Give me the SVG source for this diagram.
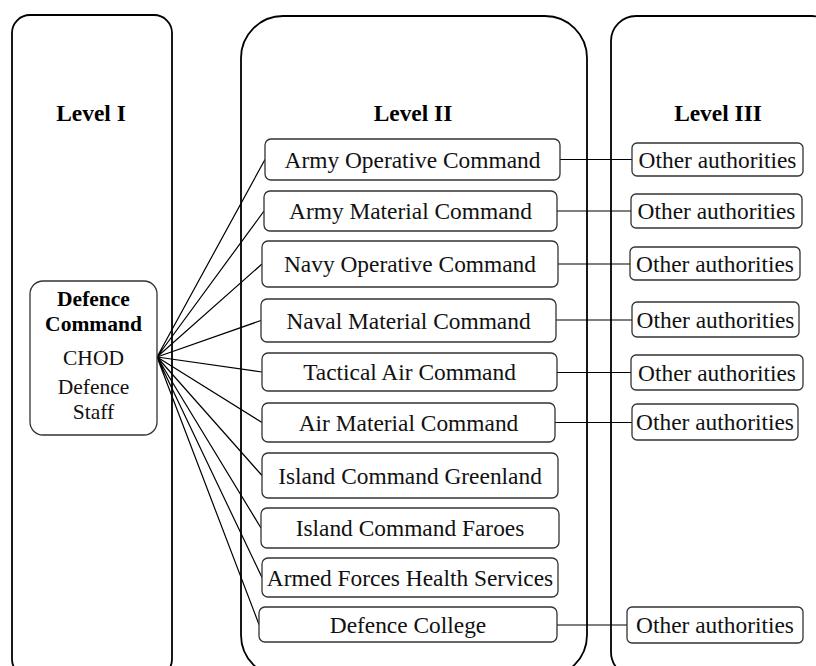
<svg xmlns="http://www.w3.org/2000/svg" width="816" height="666" viewBox="0 0 816 666">
<style>
.panel{fill:#fff;stroke:#000;stroke-width:1.8}
.box{fill:#fff;stroke:#333;stroke-width:1.3}
.t{font-family:"Liberation Serif","Times New Roman",serif;font-size:23.4px;fill:#111;text-anchor:middle}
.s{font-size:21.5px}
.b{font-weight:bold;fill:#000}
.c{stroke:#000;stroke-width:1.2;fill:none}
</style>
<rect width="816" height="666" fill="#fff"/>
<g id="panels">
<g id="level1"><rect class="panel" x="12" y="15" width="160" height="662" rx="18"/><text class="t b" x="91" y="121">Level I</text></g>
<g id="level2"><rect class="panel" x="241" y="16" width="346" height="661" rx="42"/><text class="t b" x="413" y="121">Level II</text></g>
<g id="level3"><rect class="panel" x="611" y="16" width="226" height="661" rx="25"/><text class="t b" x="718" y="121">Level III</text></g>
</g>
<g id="connectors">
<path class="c" d="M157,357L265,159.5M157,357L264,211M157,357L262,264M157,357L261,320.5M157,357L262,372M157,357L262,422.5M157,357L262,475.5M157,357L261,528M157,357L262,577.5M157,357L259,624.5"/>
<path class="c" d="M560,159.5H632M557,211H631M558,264H630M556,320H632M557,372.5H631M555,422.5H632M557,625H627"/>
</g>
<g id="defence-command">
<rect class="box" x="30" y="281" width="127" height="154" rx="13"/>
<text class="t s b" x="93.5" y="306">Defence</text>
<text class="t s b" x="93.5" y="330.5">Command</text>
<text class="t s" x="93.5" y="365">CHOD</text>
<text class="t s" x="93.5" y="394">Defence</text>
<text class="t s" x="93.5" y="418.5">Staff</text>
</g>
<g id="army-operative"><rect class="box" x="265" y="139" width="295" height="41" rx="6"/><text class="t" x="412.5" y="167.5">Army Operative Command</text></g>
<g id="army-material"><rect class="box" x="264" y="191" width="293" height="40" rx="6"/><text class="t" x="410.5" y="219">Army Material Command</text></g>
<g id="navy-operative"><rect class="box" x="262" y="241" width="296" height="46" rx="6"/><text class="t" x="410" y="272">Navy Operative Command</text></g>
<g id="naval-material"><rect class="box" x="261" y="299" width="295" height="43" rx="6"/><text class="t" x="408.5" y="328.5">Naval Material Command</text></g>
<g id="tactical-air"><rect class="box" x="262" y="353" width="295" height="38" rx="6"/><text class="t" x="409.5" y="380">Tactical Air Command</text></g>
<g id="air-material"><rect class="box" x="262" y="403" width="293" height="39" rx="6"/><text class="t" x="408.5" y="430.5">Air Material Command</text></g>
<g id="greenland"><rect class="box" x="262" y="453" width="296" height="45" rx="6"/><text class="t" x="410" y="483.5">Island Command Greenland</text></g>
<g id="faroes"><rect class="box" x="261" y="508" width="298" height="40" rx="6"/><text class="t" x="410" y="536">Island Command Faroes</text></g>
<g id="health"><rect class="box" x="262" y="558" width="296" height="39" rx="6"/><text class="t" x="410" y="585.5">Armed Forces Health Services</text></g>
<g id="college"><rect class="box" x="259" y="607" width="298" height="35" rx="6"/><text class="t" x="408" y="632.5">Defence College</text></g>
<g id="oa1"><rect class="box" x="632" y="143" width="171" height="33" rx="5"/><text class="t" x="717.5" y="167.5">Other authorities</text></g>
<g id="oa2"><rect class="box" x="631" y="194" width="171" height="34" rx="5"/><text class="t" x="716.5" y="219">Other authorities</text></g>
<g id="oa3"><rect class="box" x="630" y="247" width="170" height="33" rx="5"/><text class="t" x="715" y="271.5">Other authorities</text></g>
<g id="oa4"><rect class="box" x="632" y="302" width="167" height="35" rx="5"/><text class="t" x="715.5" y="327.5">Other authorities</text></g>
<g id="oa5"><rect class="box" x="631" y="355" width="172" height="35" rx="5"/><text class="t" x="717" y="380.5">Other authorities</text></g>
<g id="oa6"><rect class="box" x="632" y="404" width="166" height="36" rx="5"/><text class="t" x="715" y="430">Other authorities</text></g>
<g id="oa7"><rect class="box" x="627" y="607" width="176" height="36" rx="5"/><text class="t" x="715" y="633">Other authorities</text></g>
</svg>
